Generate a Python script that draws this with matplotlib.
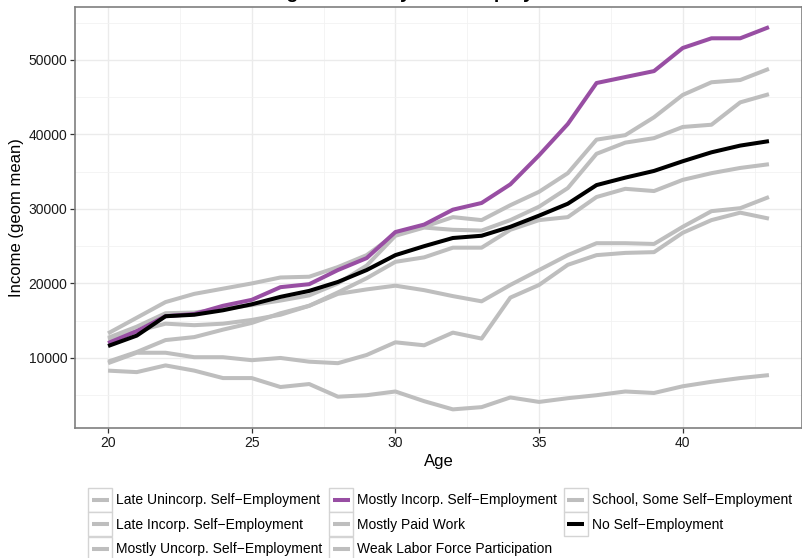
# Income by age for each self-employment trajectory
import matplotlib
matplotlib.use('Agg')
import matplotlib.pyplot as plt
from matplotlib.lines import Line2D
from matplotlib.patches import Rectangle
from matplotlib.legend_handler import HandlerLine2D

plt.rcParams['font.family'] = ['Liberation Sans', 'DejaVu Sans']

ages = list(range(20, 44))

late_unincorp = [9500, 10800, 12400, 12800, 13800, 14700, 16000, 17000, 18600, 19200, 19700, 19100,
                 18300, 17600, 19800, 21800, 23800, 25400, 25400, 25300, 27600, 29700, 30100, 31600]
late_incorp = [13300, 15400, 17500, 18600, 19300, 20000, 20800, 20900, 22200, 23800, 26600, 27600,
               28900, 28500, 30500, 32300, 34800, 39300, 39900, 42300, 45300, 47000, 47300, 48800]
mostly_uncorp = [12500, 13600, 14600, 14400, 14600, 15100, 15800, 17000, 18800, 20700, 22900, 23500,
                 24800, 24800, 27200, 28500, 28900, 31600, 32700, 32400, 33900, 34800, 35500, 36000]
mostly_incorp = [12000, 13600, 15600, 15900, 17000, 17800, 19500, 19900, 21800, 23400, 26900, 27900,
                 29900, 30800, 33300, 37200, 41400, 46900, 47700, 48500, 51600, 52900, 52900, 54400]
mostly_paid = [12700, 14200, 16000, 16100, 16600, 17100, 17700, 18400, 20000, 22400, 26400, 27500,
               27200, 27100, 28500, 30300, 32800, 37400, 38900, 39500, 41000, 41300, 44300, 45400]
weak_labor = [8300, 8100, 9000, 8300, 7300, 7300, 6100, 6500, 4800, 5000, 5500, 4200,
              3100, 3400, 4700, 4100, 4600, 5000, 5500, 5300, 6200, 6800, 7300, 7700]
school_some = [9300, 10700, 10700, 10100, 10100, 9700, 10000, 9500, 9300, 10400, 12100, 11700,
               13400, 12600, 18100, 19800, 22500, 23800, 24100, 24200, 26800, 28500, 29500, 28700]
no_selfemp = [11600, 13000, 15600, 15800, 16400, 17200, 18200, 19000, 20200, 21800, 23800, 25000,
              26100, 26400, 27600, 29100, 30700, 33200, 34200, 35100, 36400, 37600, 38500, 39100]

labels = ['Late Unincorp. Self\u2212Employment', 'Late Incorp. Self\u2212Employment',
          'Mostly Uncorp. Self\u2212Employment', 'Mostly Incorp. Self\u2212Employment',
          'Mostly Paid Work', 'Weak Labor Force Participation',
          'School, Some Self\u2212Employment', 'No Self\u2212Employment']
series = [late_unincorp, late_incorp, mostly_uncorp, mostly_incorp,
          mostly_paid, weak_labor, school_some, no_selfemp]
colors = ['#bebebe', '#bebebe', '#bebebe', '#984ea3', '#bebebe', '#bebebe', '#bebebe', 'black']


class BoxKey(HandlerLine2D):
    # ggplot style legend key: bordered square with a short line
    def create_artists(self, legend, orig_handle, xdescent, ydescent,
                       width, height, fontsize, trans):
        box = Rectangle((-xdescent, -ydescent), width, height, facecolor='white',
                        edgecolor='#d4d4d4', lw=1.0, transform=trans)
        y = -ydescent + height / 2
        seg = Line2D([-xdescent + width * 0.15, -xdescent + width * 0.85], [y, y],
                     color=orig_handle.get_color(), lw=orig_handle.get_linewidth(),
                     solid_capstyle='butt', transform=trans)
        return [box, seg]


fig = plt.figure(figsize=(8.03, 5.58), dpi=100)
ax = fig.add_axes([75 / 803, 1 - 428 / 558, 727 / 803, 421 / 558])

order = [0, 1, 2, 4, 5, 6, 3, 7]  # grey lines first, then purple and black on top
handles = {}
for i in order:
    ln, = ax.plot(ages, series[i], color=colors[i], lw=2.9, solid_capstyle='butt',
                  solid_joinstyle='round', label=labels[i])
    handles[i] = ln

ax.set_xlim(18.85, 44.15)
ax.set_ylim(600, 57100)
ax.set_xticks([20, 25, 30, 35, 40])
ax.set_xticks([22.5, 27.5, 32.5, 37.5, 42.5], minor=True)
ax.set_yticks([10000, 20000, 30000, 40000, 50000])
ax.set_yticks([5000, 15000, 25000, 35000, 45000, 55000], minor=True)
ax.grid(which='major', color='#ebebeb', lw=1.0)
ax.grid(which='minor', color='#f2f2f2', lw=0.6)
ax.set_axisbelow(True)
for s in ax.spines.values():
    s.set_color('#7f7f7f')
    s.set_linewidth(1.2)
ax.tick_params(which='major', length=3.5, width=0.9, color='#333333',
               labelsize=10, labelcolor='#1a1a1a', pad=2)
ax.tick_params(which='minor', length=0)

ax.set_xlabel('Age', fontsize=12, labelpad=3)
ax.set_ylabel('Income (geom mean)', fontsize=12, labelpad=3)

# title sits above the top edge, only its descenders show as in the reference
fig.text(0.506, 1.0 + 1.5 / 558, 'Average Income by Self\u2212Employment', ha='center',
         va='baseline', fontsize=14, fontweight='bold')

fig.legend([handles[i] for i in range(8)], labels, ncol=3, loc='upper center',
           bbox_to_anchor=(0.548, 1 - 481 / 558), frameon=False, fontsize=10,
           handlelength=1.75, handleheight=2.28, handletextpad=0.3,
           labelspacing=0.04, columnspacing=0.45, borderpad=0.0,
           handler_map={Line2D: BoxKey()})

fig.savefig('out.png', dpi=100)
